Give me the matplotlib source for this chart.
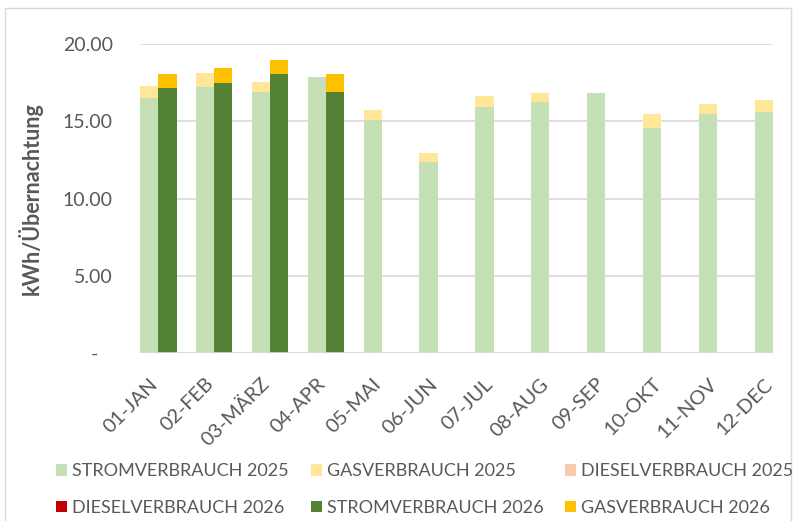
import matplotlib.pyplot as plt
import numpy as np
from matplotlib.patches import Rectangle, Patch

# Data
months = ["01-JAN", "02-FEB", "03-MÄRZ", "04-APR", "05-MAI", "06-JUN",
          "07-JUL", "08-AUG", "09-SEP", "10-OKT", "11-NOV", "12-DEC"]
strom_2025 = [16.48, 17.24, 16.87, 17.86, 15.10, 12.34, 15.90, 16.22, 16.85, 14.58, 15.44, 15.57]
gas_2025 = [0.82, 0.90, 0.69, -0.13, 0.62, 0.62, 0.71, 0.63, -0.15, 0.86, 0.65, 0.83]
diesel_2025 = [0, 0, 0, 0, 0, 0, 0, 0, 0, 0, 0, 0]
strom_2026 = [17.15, 17.47, 18.03, 16.89]
gas_2026 = [0.91, 0.95, 0.91, 1.19]
diesel_2026 = [0, 0, 0, 0]

c_strom25, c_gas25, c_dies25 = "#C5E0B4", "#FFE699", "#F8CBAD"
c_strom26, c_gas26, c_dies26 = "#548235", "#FFC000", "#C00000"
grey = "#595959"
plt.rcParams["font.family"] = ["Lato", "DejaVu Sans"]


def stack(ax, x, series, colors, width):
    # excel style: positives stack upwards, negatives downwards from zero
    pos = np.zeros(len(x))
    neg = np.zeros(len(x))
    for vals, col in zip(series, colors):
        vals = np.asarray(vals, dtype=float)
        bottom = np.where(vals >= 0, pos, neg)
        ax.bar(x, vals, width, bottom=bottom, color=col, linewidth=0, zorder=3)
        pos = pos + np.where(vals >= 0, vals, 0)
        neg = neg + np.where(vals < 0, vals, 0)


fig = plt.figure(figsize=(7.94, 5.21), dpi=100)
ax = fig.add_axes([140 / 794, 1 - 353 / 521, 633 / 794, 309 / 521])

w = 0.327
x25 = np.arange(len(months))
x26 = np.arange(len(strom_2026)) + w
stack(ax, x25, [strom_2025, gas_2025, diesel_2025], [c_strom25, c_gas25, c_dies25], w)
stack(ax, x26, [strom_2026, gas_2026, diesel_2026], [c_strom26, c_gas26, c_dies26], w)

ax.set_xlim(-w / 2, len(months) - 1 + w / 2)
ax.set_ylim(0, 20)
ax.set_yticks([0, 5, 10, 15, 20])
ax.set_yticklabels(["-   ", "5.00", "10.00", "15.00", "20.00"])
ax.yaxis.grid(True, color="#D9D9D9", linewidth=1.2, zorder=0)
ax.axhline(0, color="#D9D9D9", linewidth=1.2, zorder=4)
for s in ax.spines.values():
    s.set_visible(False)
ax.tick_params(axis="both", length=0, colors=grey, labelsize=14)
ax.tick_params(axis="y", pad=19.5)
ax.set_xticks(x25)
ax.set_xticklabels(months, rotation=45, ha="right", rotation_mode="anchor", fontsize=14.5)
ax.tick_params(axis="x", pad=16)
ax.set_ylabel("kWh/Übernachtung", fontsize=15.5, fontweight="bold", color=grey)
ax.yaxis.set_label_coords(-(140 - 43) / 633, 0.5)

# legend entries, placed in a 3 x 2 grid like the original
entries = [
    ("STROMVERBRAUCH 2025", c_strom25, 0, 0),
    ("GASVERBRAUCH 2025", c_gas25, 1, 0),
    ("DIESELVERBRAUCH 2025", c_dies25, 2, 0),
    ("DIESELVERBRAUCH 2026", c_dies26, 0, 1),
    ("STROMVERBRAUCH 2026", c_strom26, 1, 1),
    ("GASVERBRAUCH 2026", c_gas26, 2, 1),
]
col_x = [56, 311, 565]
row_y = [471.5, 508]
for label, color, c, r in entries:
    fig.legend(handles=[Patch(facecolor=color, edgecolor="none", label=label)],
               loc="center left", bbox_to_anchor=(col_x[c] / 794, 1 - row_y[r] / 521),
               frameon=False, fontsize=13, labelcolor=grey,
               handlelength=0.62, handleheight=0.62, handletextpad=0.28,
               borderpad=0, borderaxespad=0)

fig.patches.append(Rectangle((5 / 794, -0.01), 786 / 794, 1 - 8 / 521 + 0.01,
                             transform=fig.transFigure, fill=False,
                             edgecolor="#D9D9D9", linewidth=1))

fig.savefig("out.png", dpi=100)
